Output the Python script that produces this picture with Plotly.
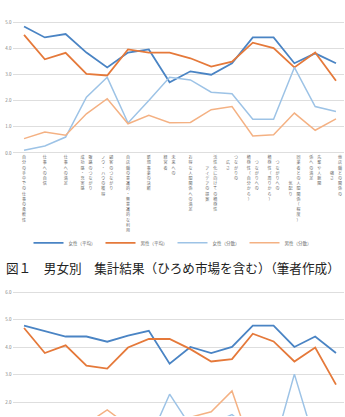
import plotly.graph_objects as go

# ---------------- data ----------------
label_columns = [
    ["自分の手中での仕事の柔軟性"],
    ["仕事への自信"],
    ["仕事への満足"],
    ["成功感・充実感", "販路のつながり"],
    ["ノウ・ハウの獲得", "顧客のつながり"],
    ["自店舗の意識的・無意識的な利用"],
    ["新規事業の決断"],
    ["経営者", "未来への"],
    ["お得な人間関係への満足"],
    ["アイデアの提案", "活性化に向けての積極性"],
    ["広さ", "つながりの"],
    ["積極性（自分から）", "つながりへの"],
    ["積極性（周りから）", "つながりへの"],
    ["気配り", "同業者との人間関係（程度）"],
    ["係への満足", "先輩や人脈関"],
    ["強さ", "他店舗との関係の"],
]
categories = ["".join(reversed(c)) for c in label_columns]

series_names = ["女性（平均）", "男性（平均）", "女性（分散）", "男性（分散）"]

# chart 1 (ひろめ市場を含む)
top_female_mean = [4.85, 4.43, 4.56, 3.85, 3.28, 3.85, 3.97, 2.71, 3.13, 3.00, 3.44, 4.43, 4.43, 3.44, 3.82, 3.44]
top_male_mean   = [4.53, 3.59, 3.84, 3.03, 2.97, 3.97, 3.85, 3.85, 3.63, 3.31, 3.50, 4.23, 4.02, 3.28, 3.85, 2.77]
top_female_var  = [0.10, 0.27, 0.61, 2.14, 2.90, 1.15, 2.01, 2.90, 2.80, 2.33, 2.27, 1.29, 1.29, 3.28, 1.78, 1.59]
top_male_var    = [0.55, 0.80, 0.68, 1.50, 2.08, 1.12, 1.44, 1.16, 1.17, 1.66, 1.78, 0.65, 0.70, 1.53, 0.87, 1.31]

# chart 2
bot_female_mean = [4.79, 4.60, 4.39, 4.39, 4.20, 4.42, 4.60, 3.40, 4.01, 3.79, 4.01, 4.79, 4.79, 4.01, 4.39, 3.79]
bot_male_mean   = [4.70, 3.79, 4.07, 3.33, 3.22, 3.99, 4.30, 4.30, 3.93, 3.48, 3.57, 4.49, 4.21, 3.48, 3.99, 2.64]
bot_female_var  = [0.30, 0.50, 0.60, 0.90, 0.80, 0.70, 0.57, 2.29, 1.13, 1.20, 1.55, 0.90, 0.30, 3.02, 0.50, 0.90]
bot_male_var    = [0.60, 0.80, 0.70, 1.20, 1.72, 1.15, 1.00, 1.20, 1.45, 1.65, 2.41, 0.20, 0.50, 1.20, 0.80, 1.00]

caption = "図１　男女別　集計結果（ひろめ市場を含む）（筆者作成）"

# ---------------- styles ----------------
colors = ["#4a84c4", "#e5793a", "#9dc3e6", "#f4b183"]
widths = [1.8, 1.8, 1.5, 1.5]
FONT = "Noto Sans CJK JP"
W, H = 345, 417


def stack(cols):
    n = max(len(c) for c in cols)
    padded = []
    for c in cols:
        extra = n - len(c)
        top = extra // 2
        padded.append("\u3000" * top + c + "\u3000" * (extra - top))
    rows = ["\u3000".join(p[i] for p in padded) for i in range(n)]
    return "<br>".join(rows)


ticktext = [stack(c) for c in label_columns]

fig = go.Figure()
top_series = [top_female_mean, top_male_mean, top_female_var, top_male_var]
bot_series = [bot_female_mean, bot_male_mean, bot_female_var, bot_male_var]
for i, (name, ys) in enumerate(zip(series_names, top_series)):
    fig.add_trace(go.Scatter(x=categories, y=ys, name=name, mode="lines",
                             line=dict(color=colors[i], width=widths[i]),
                             xaxis="x", yaxis="y", showlegend=True))
for i, (name, ys) in enumerate(zip(series_names, bot_series)):
    fig.add_trace(go.Scatter(x=categories, y=ys, name=name, mode="lines",
                             line=dict(color=colors[i], width=widths[i]),
                             xaxis="x2", yaxis="y2", showlegend=False))

xdom = [12.6 / W, 344.3 / W]
grid = "#dedede"
tickfont = dict(family=FONT, size=4.5, color="#808080")

fig.update_layout(
    width=W, height=H,
    margin=dict(l=0, r=0, t=0, b=0),
    paper_bgcolor="white", plot_bgcolor="white",
    font=dict(family=FONT),
    xaxis=dict(domain=xdom, type="category", range=[-0.55, 15.4],
               tickmode="array", tickvals=categories, ticktext=ticktext,
               tickfont=dict(family=FONT, size=4, color="#6a6a6a"),
               showgrid=False, showline=False, zeroline=False, ticks=""),
    yaxis=dict(domain=[1 - 154.0 / H, 1 - 13.8 / H], range=[-0.05, 5.3],
               tickmode="linear", tick0=0, dtick=1, tickformat=".1f",
               tickfont=tickfont, gridcolor=grid, gridwidth=0.8,
               showline=False, zeroline=False, ticks=""),
    xaxis2=dict(domain=xdom, type="category", range=[-0.55, 15.4],
                showticklabels=False, showgrid=False, showline=False,
                zeroline=False, anchor="y2"),
    yaxis2=dict(domain=[0, 0.3047], range=[1.496, 6.1],
                tickmode="linear", tick0=0, dtick=1, tickformat=".1f",
                tickfont=tickfont, gridcolor=grid, gridwidth=0.8,
                showline=False, zeroline=False, ticks="", anchor="x2"),
    legend=dict(orientation="h", x=0.5, xanchor="center",
                y=1 - 243 / H, yanchor="middle",
                font=dict(family=FONT, size=4.5, color="#6a6a6a"),
                itemwidth=30, bgcolor="rgba(0,0,0,0)", tracegroupgap=0),
    annotations=[dict(text=caption, x=0.5, y=1 - 268 / H, xref="paper", yref="paper",
                      xanchor="center", yanchor="middle", showarrow=False,
                      font=dict(family=FONT, size=12.6, color="#222222"))],
)

fig.write_html("out.html")
